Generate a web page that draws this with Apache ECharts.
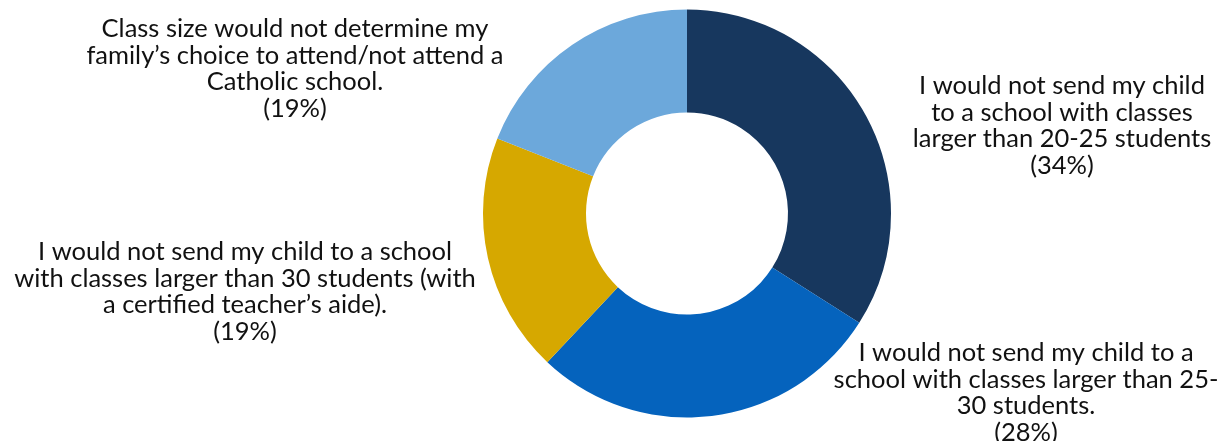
<!DOCTYPE html>
<html>
<head>
<meta charset="utf-8">
<script src="https://cdn.jsdelivr.net/npm/echarts@6/dist/echarts.min.js"></script>
<style>html,body{margin:0;padding:0;background:#fff}#c{width:1227px;height:441px}</style>
</head>
<body>
<div id="c"></div>
<script>
const categories = [
  "I would not send my child\nto a school with classes\nlarger than 20-25 students",
  "I would not send my child to a\nschool with classes larger than 25-\n30 students.",
  "I would not send my child to a school\nwith classes larger than 30 students (with\na certified teacher\u2019s aide).",
  "Class size would not determine my\nfamily\u2019s choice to attend/not attend a\nCatholic school."
];
const values = [34, 28, 19, 19];
const colors = ["#17375E", "#0563BD", "#D6A800", "#6CA8DB"];
const labelPos = [[1062, 126], [1026, 393], [245, 292], [295, 69]];

const chart = echarts.init(document.getElementById('c'), null, {renderer: 'canvas'});
chart.setOption({
  animation: false,
  series: [{
    type: 'pie',
    center: [687, 213.5],
    radius: [101, 204],
    startAngle: 90,
    clockwise: true,
    avoidLabelOverlap: false,
    data: categories.map((n, i) => ({name: n, value: values[i], itemStyle: {color: colors[i]}})),
    label: {
      show: true,
      formatter: p => p.name + '\n(' + p.value + '%)',
      fontFamily: 'Lato',
      fontSize: 25.5,
      lineHeight: 26.5,
      color: '#111',
      align: 'center'
    },
    labelLine: {show: false},
    labelLayout: p => ({
      x: labelPos[p.dataIndex][0],
      y: labelPos[p.dataIndex][1],
      align: 'center',
      verticalAlign: 'middle'
    })
  }]
});
</script>
</body>
</html>
